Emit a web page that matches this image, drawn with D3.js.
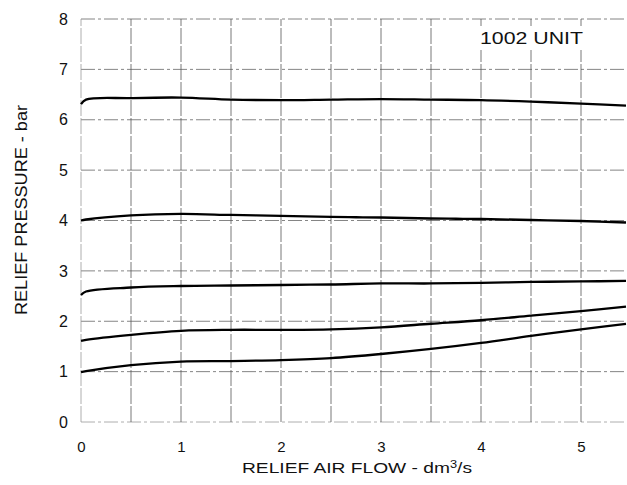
<!DOCTYPE html>
<html><head><meta charset="utf-8">
<script src="https://cdn.jsdelivr.net/npm/d3@7/dist/d3.min.js"></script>
<style>body{margin:0;background:#fff}svg{display:block}text{font-family:"Liberation Sans",Arial,sans-serif;fill:#111}</style>
</head><body><svg id="c" width="627" height="485"></svg>
<script>
const xTicks = [0,1,2,3,4,5];
const yTicks = [0,1,2,3,4,5,6,7,8];
const xGrid = [0,0.5,1,1.5,2,2.5,3,3.5,4,4.5,5,5.5];
const flow = [0,0.05,0.5,1,1.5,2,2.5,3,3.5,4,4.5,5,5.45];
const curve1 = [6.31,6.40,6.43,6.44,6.40,6.39,6.40,6.41,6.40,6.39,6.36,6.32,6.28];
const curve2 = [4.00,4.02,4.10,4.13,4.11,4.09,4.07,4.06,4.04,4.03,4.01,3.99,3.96];
const curve3 = [2.52,2.59,2.67,2.70,2.71,2.72,2.73,2.75,2.75,2.76,2.78,2.79,2.80];
const curve4 = [1.61,1.63,1.73,1.81,1.83,1.83,1.84,1.88,1.95,2.02,2.11,2.20,2.29];
const curve5 = [0.99,1.01,1.13,1.20,1.21,1.23,1.27,1.35,1.45,1.57,1.71,1.84,1.95];
const series = [curve1,curve2,curve3,curve4,curve5];

const svg = d3.select("#c");
const x = d3.scaleLinear().domain([0,5.5]).range([81,631]);
const y = d3.scaleLinear().domain([0,8]).range([422,19]);

// grid
const g = svg.append("g");
g.selectAll(".h").data(yTicks).join("line")
  .attr("x1",x(0)).attr("x2",627).attr("y1",d=>y(d)).attr("y2",d=>y(d))
  .attr("stroke",d=>d===0?"#999":"#666").attr("stroke-width",0.8)
  .attr("stroke-dasharray","14,3,3,3");
g.selectAll(".v").data(xGrid).join("line")
  .attr("x1",d=>x(d)).attr("x2",d=>x(d)).attr("y1",y(0)).attr("y2",y(8))
  .attr("stroke",d=>d===0?"#999":"#555").attr("stroke-width",0.8)
  .attr("stroke-dasharray","16,2");

// label box
svg.append("rect").attr("x",474).attr("y",26).attr("width",116).attr("height",24).attr("fill","#fff");
svg.append("text").attr("x",480).attr("y",44).attr("font-size",17)
  .attr("textLength",103).attr("lengthAdjust","spacingAndGlyphs").text("1002  UNIT");

// curves
const line = d3.line().x((d,i)=>x(flow[i])).y(d=>y(d)).curve(d3.curveCatmullRom.alpha(0.5));
svg.selectAll(".s").data(series).join("path")
  .attr("d",line).attr("fill","none").attr("stroke","#000").attr("stroke-width",2.3);

// axes ticks (text only, like the reference)
const yAxis = d3.axisLeft(y).tickValues(yTicks).tickSize(0).tickPadding(0).tickFormat(d3.format("d"));
const ya = svg.append("g").attr("transform","translate(68,0)").call(yAxis);
ya.select(".domain").remove();
ya.selectAll("text").attr("font-size",16).attr("font-family","Liberation Sans, Arial, sans-serif").attr("fill","#222");

const xAxis = d3.axisBottom(x).tickValues(xTicks).tickSize(0).tickPadding(0).tickFormat(d3.format("d"));
const xa = svg.append("g").attr("transform","translate(0,441)").call(xAxis);
xa.select(".domain").remove();
xa.selectAll("text").attr("font-size",15).attr("font-family","Liberation Sans, Arial, sans-serif").attr("fill","#222");

// axis titles
svg.append("text").attr("transform","translate(27,210) rotate(-90)").attr("text-anchor","middle")
  .attr("font-size",17).attr("textLength",210).attr("lengthAdjust","spacingAndGlyphs")
  .text("RELIEF PRESSURE - bar");
const xt = svg.append("text").attr("x",242).attr("y",473).attr("font-size",15)
  .attr("textLength",230).attr("lengthAdjust","spacingAndGlyphs");
xt.append("tspan").text("RELIEF AIR FLOW - dm");
xt.append("tspan").attr("dy",-5).attr("font-size",10).text("3");
xt.append("tspan").attr("dy",5).text("/s");
</script></body></html>
